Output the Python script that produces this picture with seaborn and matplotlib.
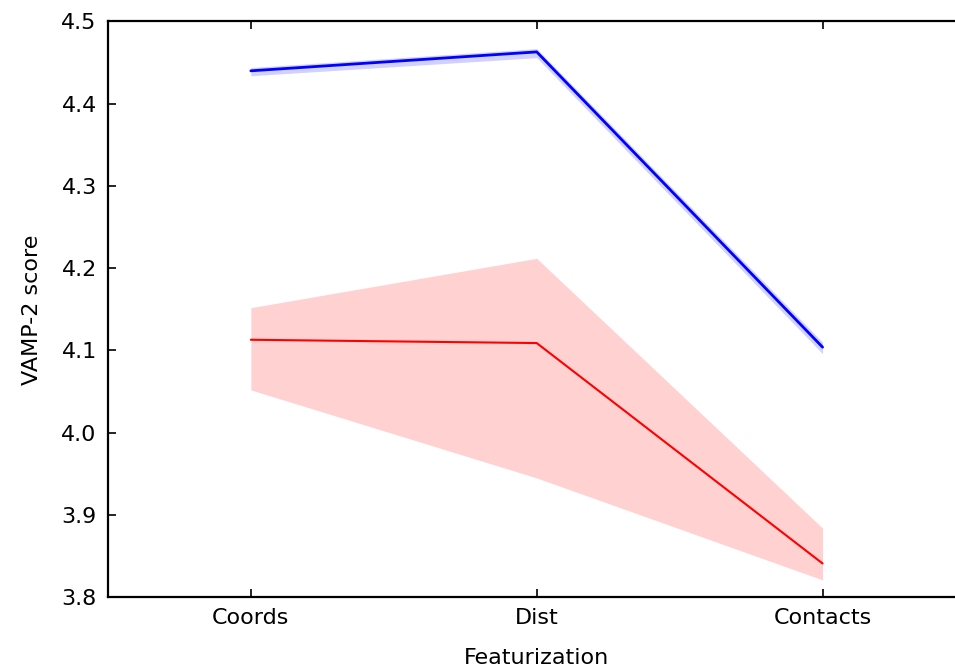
import numpy as np
import pandas as pd
import matplotlib
matplotlib.use("Agg")
import matplotlib.pyplot as plt
import seaborn as sns

# Featurizations on the x axis
featurizations = ["Coords", "Dist", "Contacts"]

# VAMP-2 scores: centre value and lower/upper band edges per featurization
blue_mid = [4.440, 4.463, 4.104]
blue_lo = [4.434, 4.456, 4.096]
blue_hi = [4.444, 4.467, 4.110]

red_mid = [4.113, 4.109, 3.841]
red_lo = [4.052, 3.945, 3.821]
red_hi = [4.152, 4.212, 3.884]

yticks = [3.8, 3.9, 4.0, 4.1, 4.2, 4.3, 4.4, 4.5]


def long_table(mid, lo, hi, name):
    rows = []
    for f, m, l, h in zip(featurizations, mid, lo, hi):
        for v in (l, m, h):
            rows.append({"Featurization": f, "score": v, "model": name})
    return pd.DataFrame(rows)


df = pd.concat([
    long_table(blue_mid, blue_lo, blue_hi, "blue"),
    long_table(red_mid, red_lo, red_hi, "red"),
], ignore_index=True)

sns.set_style("ticks")
plt.rcParams.update({
    "font.family": ["DejaVu Sans"],
    "text.color": "black",
    "axes.labelcolor": "black",
    "xtick.color": "black",
    "ytick.color": "black",
    "xtick.direction": "in",
    "ytick.direction": "in",
    "xtick.top": True,
    "ytick.right": True,
    "axes.edgecolor": "black",
    "axes.linewidth": 1.6,
})

fig = plt.figure(figsize=(9.55, 6.71), dpi=100)
ax = fig.add_axes([0.113, 0.110, 0.898, 0.858])

# median of (lo, mid, hi) is the centre line; the 100% interval spans lo..hi
sns.lineplot(data=df, x="Featurization", y="score", hue="model",
             palette={"blue": "#0000ff", "red": "#ff0000"},
             estimator="median", errorbar=("pi", 100),
             err_kws={"alpha": 0.18, "linewidth": 0},
             ax=ax, legend=False)
for line, lw in zip(ax.lines, [2.0, 1.5]):
    line.set_linewidth(lw)

ax.set_xlim(-0.5, 2.5)
ax.set_ylim(3.8, 4.5)
ax.set_yticks(yticks)
ax.set_yticklabels([f"{t:.1f}" for t in yticks])
ax.tick_params(axis="both", length=6, width=1.2, labelsize=16, pad=8)
ax.set_xlabel("Featurization", fontsize=16, labelpad=14)
ax.set_ylabel("VAMP-2 score", fontsize=16, labelpad=14)
for s in ax.spines.values():
    s.set_visible(True)

fig.savefig("out.png", dpi=100)
